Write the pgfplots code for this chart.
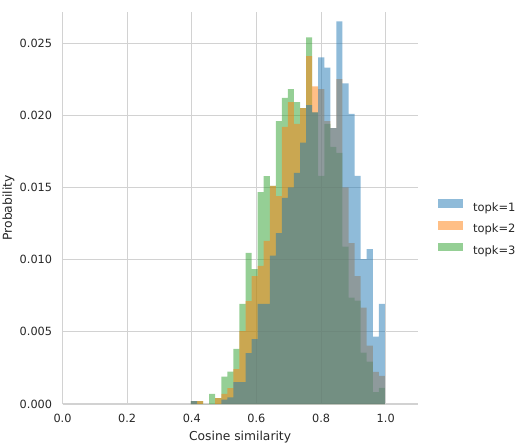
\documentclass[border=0pt]{standalone}
\usepackage{fontspec}
\setmainfont{DejaVu Sans}
\usepackage{pgfplots}
\usepackage{pgfplotstable}
\pgfplotsset{compat=1.18}
\definecolor{tabblue}{RGB}{31,119,180}
\definecolor{taborange}{RGB}{255,127,14}
\definecolor{tabgreen}{RGB}{44,160,44}
\definecolor{gridgrey}{RGB}{210,210,210}
\definecolor{textgrey}{RGB}{38,38,38}

% left bin edge and bar height of each series (last row closes the last bin)
\pgfplotstableread{
x       b       o       g
0.39750 0.00020 0.00020 0.00020
0.41625 0.00000 0.00020 0.00020
0.43500 0.00000 0.00000 0.00000
0.45375 0.00000 0.00000 0.00070
0.47250 0.00000 0.00040 0.00040
0.49125 0.00030 0.00070 0.00190
0.51000 0.00046 0.00110 0.00224
0.52875 0.00152 0.00242 0.00381
0.54750 0.00152 0.00505 0.00693
0.56625 0.00353 0.00713 0.01046
0.58500 0.00450 0.00886 0.00935
0.60375 0.00693 0.00956 0.01468
0.62250 0.00693 0.01129 0.01579
0.64125 0.01027 0.01510 0.01510
0.66000 0.01184 0.01440 0.01960
0.67875 0.01428 0.01920 0.02120
0.69750 0.01500 0.02090 0.02180
0.71625 0.01600 0.01940 0.02090
0.73500 0.01810 0.02050 0.02050
0.75375 0.02070 0.02410 0.02540
0.77250 0.02020 0.02200 0.02020
0.79125 0.02400 0.02180 0.01580
0.81000 0.02330 0.01960 0.01940
0.82875 0.01910 0.01910 0.01780
0.84750 0.02650 0.02250 0.01740
0.86625 0.02220 0.01500 0.01090
0.88500 0.02010 0.01115 0.00736
0.90375 0.01580 0.00886 0.00716
0.92250 0.01004 0.00667 0.00355
0.94125 0.01073 0.00404 0.00293
0.96000 0.00466 0.00222 0.00083
0.97875 0.00693 0.00194 0.00111
0.99750 0.00693 0.00194 0.00111
}\histdata

\begin{document}
\begin{tikzpicture}
\begin{axis}[
  scale only axis,
  width=355.2pt, height=392pt,
  xmin=0, xmax=1.099, ymin=0, ymax=0.02715,
  scaled x ticks=false, scaled y ticks=false,
  axis x line=bottom, axis y line=left,
  axis line style={draw=gridgrey, line width=1.25pt, -},
  grid=major,
  major grid style={draw=gridgrey, line width=1pt},
  major tick length=0pt,
  xtick={0,0.2,0.4,0.6,0.8,1.0},
  xticklabels={0.0,0.2,0.4,0.6,0.8,1.0},
  ytick={0,0.005,0.01,0.015,0.02,0.025},
  yticklabels={0.000,0.005,0.010,0.015,0.020,0.025},
  tick label style={font=\fontsize{11.3}{13}\selectfont, text=textgrey, inner sep=0pt},
  xticklabel style={anchor=base, yshift=-18.5pt},
  yticklabel style={anchor=east, xshift=-10.2pt},
  xlabel={Cosine similarity},
  ylabel={Probability},
  label style={font=\fontsize{12.3}{14}\selectfont, text=textgrey, inner sep=0pt},
  xlabel style={at={(axis description cs:0.5,-0.0931)}, anchor=base},
  ylabel style={at={(axis description cs:-0.1422,0.5)}, anchor=base},
  legend image code/.code={\fill[#1] (0pt,0pt) rectangle (25pt,8.8pt);},
  legend cell align=left,
  reverse legend,
  legend style={draw=none, fill=none, inner sep=0pt, outer sep=0pt,
    at={(axis description cs:1.0563,0.5222)}, anchor=north west,
    font=\fontsize{11.5}{13}\selectfont, text=textgrey,
    column sep=10.3pt, row sep=6.85pt,
    nodes={inner sep=0pt, text height=9pt, text depth=3pt}},
]
\addplot[const plot, fill=tabgreen, fill opacity=0.5, draw=none] table[x=x, y=g] {\histdata} \closedcycle;
\addlegendentry{topk=3}
\addplot[const plot, fill=taborange, fill opacity=0.5, draw=none] table[x=x, y=o] {\histdata} \closedcycle;
\addlegendentry{topk=2}
\addplot[const plot, fill=tabblue, fill opacity=0.5, draw=none] table[x=x, y=b] {\histdata} \closedcycle;
\addlegendentry{topk=1}
\end{axis}
\pgfresetboundingbox
\path[use as bounding box] (-62.5pt,-40pt) rectangle (455.5pt,404pt);
\end{tikzpicture}
\end{document}
